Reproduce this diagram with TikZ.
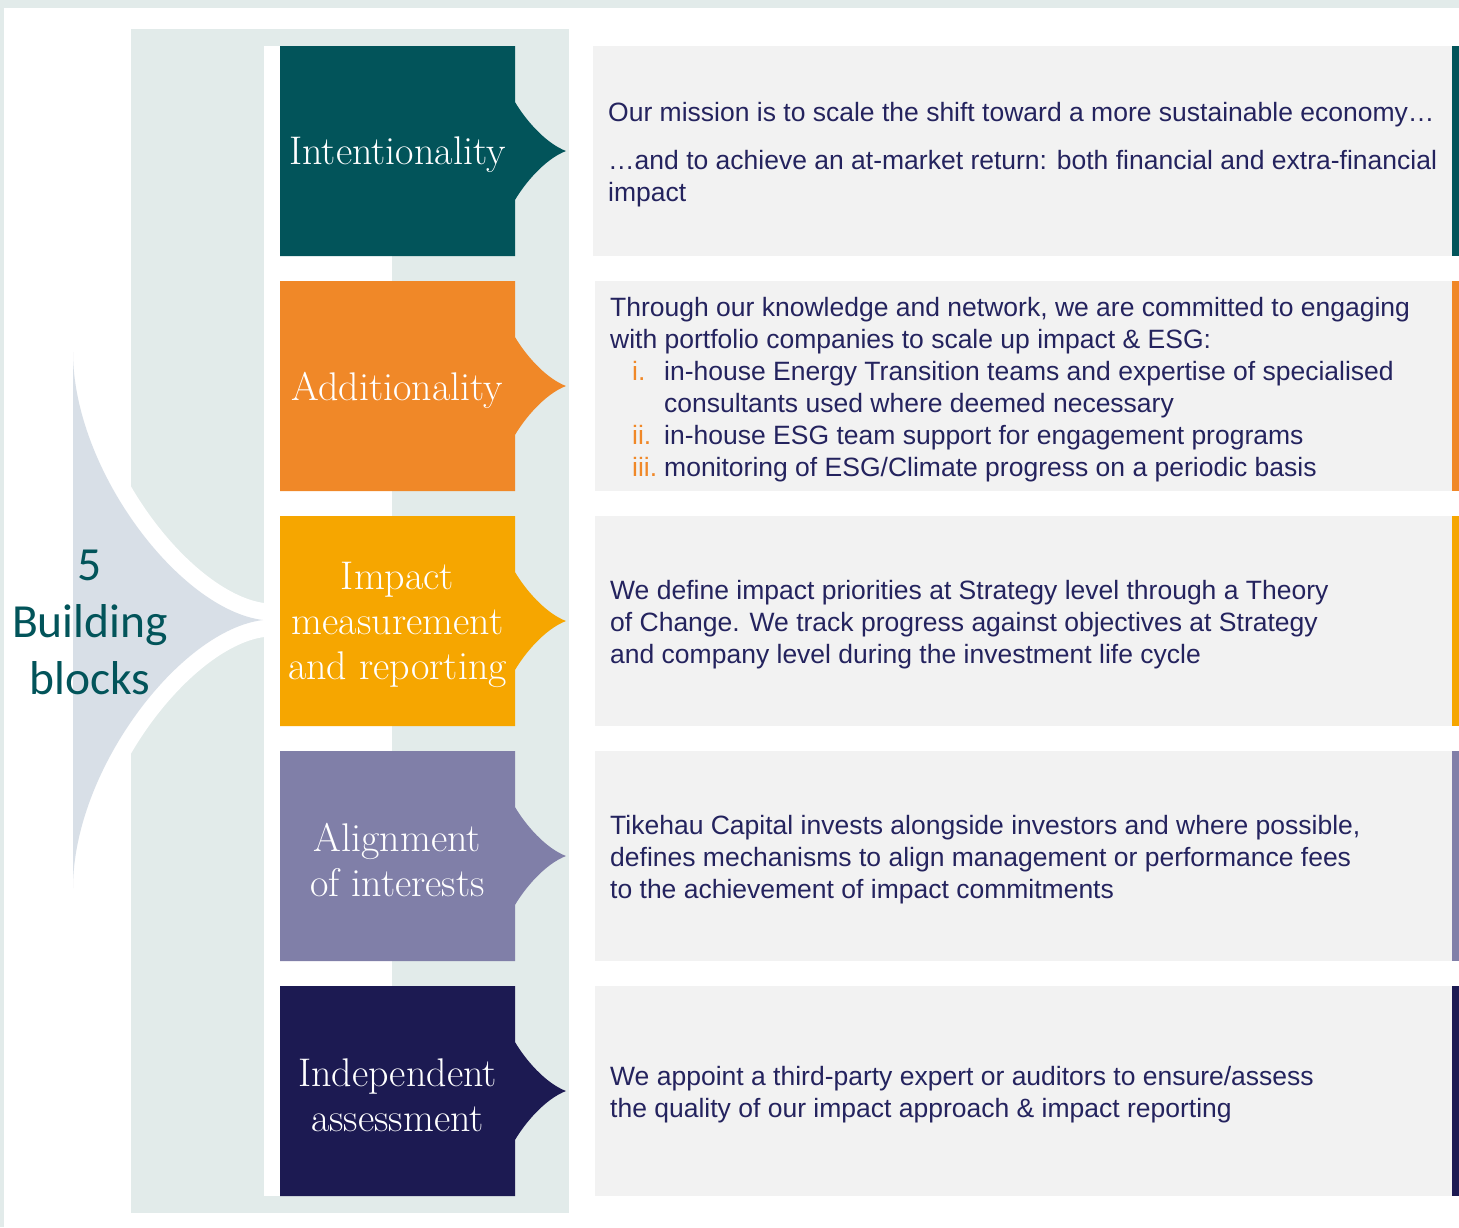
\documentclass[tikz,border=0pt]{standalone}
\usepackage{fontspec}
\newfontfamily\bodyfont{Liberation Sans}
\newfontfamily\blockfont{Carlito}
\definecolor{cPanel}{HTML}{E2EBEA}
\definecolor{cTeal}{HTML}{02545A}
\definecolor{cOrange}{HTML}{F08828}
\definecolor{cAmber}{HTML}{F6A600}
\definecolor{cPurple}{HTML}{807FA8}
\definecolor{cNavy}{HTML}{1C1A52}
\definecolor{cGray}{HTML}{F2F2F2}
\definecolor{cShape}{HTML}{D8DFE7}
\definecolor{cText}{HTML}{24235E}
\tikzset{
  lab/.style={align=center, text=white, inner sep=0pt,
    font=\rmfamily\fontsize{40}{45}\selectfont},
  gbox/.style={fill=cGray, draw=none, inner sep=0pt, anchor=north west,
    minimum height=210pt},
  body/.style={align=left, text=cText, inner sep=0pt, anchor=west,
    font=\bodyfont\fontsize{26.5}{32}\selectfont}
}
\newcommand\itm[1]{\hspace*{22pt}\makebox[32pt][l]{\color{cOrange}#1}}
\begin{document}
\begin{tikzpicture}[x=1pt,y=-1pt]
\useasboundingbox (0,0) rectangle (1459,1227);
% page frame
\fill[white] (0,0) rectangle (1459,1227);
\fill[cPanel] (0,0) rectangle (1459,8);
\fill[cPanel] (0,0) rectangle (4,1227);
% panel and white column
\fill[cPanel] (131,29) rectangle (569,1213);
\fill[white] (264,46) rectangle (392,1196);
% left shape
\draw[white, line width=34pt] (73,352) .. controls (73,470) and (180,610) .. (263,620)
   .. controls (180,630) and (73,770) .. (73,888);
\fill[cShape] (73,352) .. controls (73,470) and (180,610) .. (263,620)
   .. controls (180,630) and (73,770) .. (73,888) -- cycle;
\node[align=center, text=cTeal, inner sep=0pt,
  font=\blockfont\fontsize{47.5}{57}\selectfont] (bb) at (90,622) {5\\Building\\blocks};
% coloured blocks
\foreach \t/\col in {46/cTeal, 281/cOrange, 516/cAmber, 751/cPurple, 986/cNavy} {
  \fill[\col] (280,\t) -- (515,\t) -- (515,\t+56)
    .. controls (525,\t+73) and (545,\t+97) .. (566,\t+105)
    .. controls (545,\t+113) and (525,\t+137) .. (515,\t+154)
    -- (515,\t+210) -- (280,\t+210) -- cycle;
  \fill[\col] (1452,\t) rectangle (1459,\t+210);
}
\node[lab] (l1) at (397.5,155) {Intentionality};
\node[lab] (l2) at (397.5,390) {Additionality};
\node[lab] (l3) at (397.5,625) {Impact\\measurement\\and reporting};
\node[lab] (l4) at (397.5,860) {Alignment\\of interests};
\node[lab] (l5) at (397.5,1095) {Independent\\assessment};
% grey text boxes
\node[gbox, minimum width=859pt] (g1) at (593,46) {};
\node[gbox, minimum width=857pt] (g2) at (595,281) {};
\node[gbox, minimum width=857pt] (g3) at (595,516) {};
\node[gbox, minimum width=857pt] (g4) at (595,751) {};
\node[gbox, minimum width=857pt] (g5) at (595,986) {};
% texts
\node[body] (t1) at (608,155) {Our mission is to scale the shift toward a more sustainable economy…\\[16pt]
…and to achieve an at-market return: both financial and extra-financial\\impact};
\node[body] (t2) at (610,390) {Through our knowledge and network, we are committed to engaging\\
with portfolio companies to scale up impact \& ESG:\\
\itm{i.}in-house Energy Transition teams and expertise of specialised\\
\hspace*{54pt}consultants used where deemed necessary\\
\itm{ii.}in-house ESG team support for engagement programs\\
\itm{iii.}monitoring of ESG/Climate progress on a periodic basis};
\node[body] (t3) at (610,625) {We define impact priorities at Strategy level through a Theory\\
of Change. We track progress against objectives at Strategy\\
and company level during the investment life cycle};
\node[body] (t4) at (610,860) {Tikehau Capital invests alongside investors and where possible,\\
defines mechanisms to align management or performance fees\\
to the achievement of impact commitments};
\node[body] (t5) at (610,1095) {We appoint a third-party expert or auditors to ensure/assess\\
the quality of our impact approach \& impact reporting};
\end{tikzpicture}
\end{document}
